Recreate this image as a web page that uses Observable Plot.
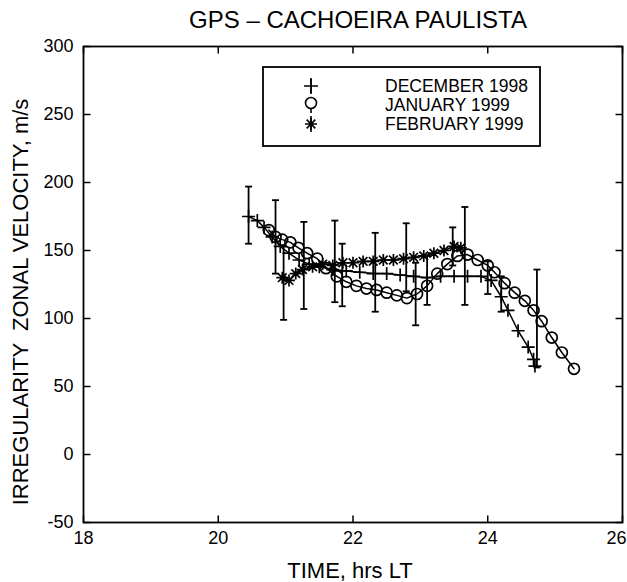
<!DOCTYPE html>
<html>
<head>
<meta charset="utf-8">
<script src="https://cdn.jsdelivr.net/npm/d3@7"></script>
<script src="https://cdn.jsdelivr.net/npm/@observablehq/plot@0.6"></script>
<style>
  html, body { margin: 0; padding: 0; background: white; }
  #chart { width: 627px; height: 582px; }
</style>
</head>
<body>
<div id="chart"></div>
<script>
// ---------- data (hours LT, m/s) ----------
const decX = [20.45, 20.58, 20.68, 20.8, 20.92, 21.05, 21.2, 21.35, 21.5, 21.7, 21.9, 22.1, 22.3, 22.5, 22.7, 22.9, 23.1, 23.3, 23.5, 23.7, 23.9, 24.05, 24.2, 24.3, 24.45, 24.6, 24.68, 24.7];
const decY = [175, 172, 167, 160, 153, 148, 143, 140, 138, 136, 135, 134, 133, 133, 132, 131, 130, 131, 131, 131, 131, 128, 116, 106, 91, 79, 70, 65];

const janX = [20.75, 20.85, 20.95, 21.07, 21.19, 21.32, 21.47, 21.6, 21.76, 21.9, 22.05, 22.2, 22.35, 22.5, 22.65, 22.8, 22.95, 23.1, 23.25, 23.4, 23.55, 23.7, 23.85, 24.0, 24.1, 24.25, 24.4, 24.55, 24.68, 24.8, 24.95, 25.1, 25.28];
const janY = [165, 160, 158, 156, 152, 148, 144, 137, 131, 127, 124, 122, 121, 119, 117, 115, 118, 124, 133, 140, 146, 147, 143, 139, 134, 126, 119, 113, 106, 98, 86, 75, 63];

const febX = [20.95, 21.05, 21.15, 21.25, 21.4, 21.55, 21.7, 21.85, 22.0, 22.15, 22.3, 22.45, 22.6, 22.75, 22.9, 23.05, 23.2, 23.35, 23.5, 23.6];
const febY = [130, 128, 133, 136, 138, 140, 139, 141, 141, 142, 142, 143, 143, 144, 145, 146, 148, 150, 153, 152];

// error bars: centre time, centre value, half-width
const errX = [20.45, 20.85, 20.97, 21.27, 21.73, 21.84, 22.33, 22.79, 22.93, 23.1, 23.48, 23.66, 24.0, 24.2, 24.73];
const errY = [176, 160, 126, 139, 142, 132, 134, 145, 118, 128, 153, 146, 130, 118, 100];
const errE = [21, 27, 27, 32, 30, 23, 29, 25, 23, 18, 14, 36, 12, 13, 36];

const xTicks = [18, 20, 22, 24, 26];
const yTicks = [-50, 0, 50, 100, 150, 200, 250, 300];

const seriesNames = ["DECEMBER 1998", "JANUARY 1999", "FEBRUARY 1999"];
const titleText = "GPS \u2013 CACHOEIRA PAULISTA";
const xLabel = "TIME, hrs LT";
const yLabel = "IRREGULARITY  ZONAL VELOCITY, m/s";

// ---------- tables ----------
const toRows = (xs, ys) => xs.map((x, i) => ({x, y: ys[i]}));
const dec = toRows(decX, decY);
const jan = toRows(janX, janY);
const feb = toRows(febX, febY);
const errs = errX.map((x, i) => ({x, lo: errY[i] - errE[i], hi: errY[i] + errE[i]}));
const caps = errs.flatMap(d => [{x: d.x, y: d.lo}, {x: d.x, y: d.hi}]);
const xTicksInner = xTicks.slice(0, -1);
const xTickLast = xTicks.slice(-1);

// ---------- symbols ----------
const rOf = size => Math.sqrt(size / Math.PI);
const plusSym = {draw(ctx, size) { const r = rOf(size); ctx.moveTo(-r, 0); ctx.lineTo(r, 0); ctx.moveTo(0, -r); ctx.lineTo(0, r); }};
const starSym = {draw(ctx, size) { const r = rOf(size); const s = r * 0.72;
  ctx.moveTo(-r, 0); ctx.lineTo(r, 0); ctx.moveTo(0, -r); ctx.lineTo(0, r);
  ctx.moveTo(-s, -s); ctx.lineTo(s, s); ctx.moveTo(-s, s); ctx.lineTo(s, -s); }};
const capSym = {draw(ctx, size) { const r = rOf(size); ctx.moveTo(-r, 0); ctx.lineTo(r, 0); }};
const TL = 7;
const tickRight = {draw(ctx) { ctx.moveTo(0, 0); ctx.lineTo(TL, 0); }};
const tickLeft = {draw(ctx) { ctx.moveTo(0, 0); ctx.lineTo(-TL, 0); }};
const tickUp = {draw(ctx) { ctx.moveTo(0, 0); ctx.lineTo(0, -TL); }};
const tickDown = {draw(ctx) { ctx.moveTo(0, 0); ctx.lineTo(0, TL); }};

const FONT = "'Liberation Sans', Arial, Helvetica, sans-serif";
const fmt = d => String(d);
const SW = 1.7;

const chart = Plot.plot({
  width: 627,
  height: 582,
  marginLeft: 83,
  marginRight: 5,
  marginTop: 46,
  marginBottom: 60,
  x: {domain: [18, 26]},
  y: {domain: [-50, 300]},
  style: {fontFamily: FONT, background: "white", color: "black", overflow: "visible"},
  marks: [
    Plot.axisX(xTicksInner, {tickSize: 0, tickPadding: 9, fontSize: 18, label: null, tickFormat: fmt}),
    Plot.axisX(xTickLast, {tickSize: 0, tickPadding: 9, fontSize: 18, label: null, tickFormat: fmt, textAnchor: "end", dx: 4}),
    Plot.axisY(yTicks, {tickSize: 0, tickPadding: 10, fontSize: 18, label: null, tickFormat: fmt}),
    // inward tick marks on all four sides
    Plot.dot(yTicks, {x: () => 18, y: d => d, symbol: tickRight, stroke: "black", fill: "none", strokeWidth: 1.5}),
    Plot.dot(yTicks, {x: () => 26, y: d => d, symbol: tickLeft, stroke: "black", fill: "none", strokeWidth: 1.5}),
    Plot.dot(xTicks, {x: d => d, y: () => -50, symbol: tickUp, stroke: "black", fill: "none", strokeWidth: 1.5}),
    Plot.dot(xTicks, {x: d => d, y: () => 300, symbol: tickDown, stroke: "black", fill: "none", strokeWidth: 1.5}),
    // error bars
    Plot.ruleX(errs, {x: "x", y1: "lo", y2: "hi", stroke: "black", strokeWidth: 1.8}),
    Plot.dot(caps, {x: "x", y: "y", symbol: capSym, r: 3.5, stroke: "black", fill: "none", strokeWidth: 1.8}),
    // series lines
    Plot.line(dec, {x: "x", y: "y", stroke: "black", strokeWidth: 1.5}),
    Plot.line(jan, {x: "x", y: "y", stroke: "black", strokeWidth: 1.5}),
    Plot.line(feb, {x: "x", y: "y", stroke: "black", strokeWidth: 1.5}),
    // markers
    Plot.dot(dec, {x: "x", y: "y", symbol: plusSym, r: 6.5, stroke: "black", fill: "none", strokeWidth: SW}),
    Plot.dot(jan, {x: "x", y: "y", symbol: "circle", r: 5.5, stroke: "black", fill: "none", strokeWidth: SW}),
    Plot.dot(feb, {x: "x", y: "y", symbol: starSym, r: 6, stroke: "black", fill: "none", strokeWidth: SW}),
    Plot.frame({stroke: "black", strokeWidth: 1.8})
  ]
});

document.getElementById("chart").appendChild(chart);

// ---------- title, axis labels, legend ----------
const svg = d3.select(chart);
svg.append("text")
  .attr("x", 358).attr("y", 19)
  .attr("text-anchor", "middle").attr("dominant-baseline", "central")
  .attr("font-family", FONT).attr("font-size", 24).attr("fill", "black")
  .text(titleText);
svg.append("text")
  .attr("x", 350).attr("y", 570)
  .attr("text-anchor", "middle").attr("dominant-baseline", "central")
  .attr("font-family", FONT).attr("font-size", 22).attr("fill", "black")
  .text(xLabel);
svg.append("text")
  .attr("transform", "translate(20,302) rotate(-90)")
  .attr("text-anchor", "middle").attr("dominant-baseline", "central")
  .attr("font-family", FONT).attr("font-size", 22).attr("fill", "black")
  .style("white-space", "pre")
  .text(yLabel);

const lg = svg.append("g");
lg.append("rect").attr("x", 263).attr("y", 67).attr("width", 277).attr("height", 79)
  .attr("fill", "white").attr("stroke", "black").attr("stroke-width", 1.8);
const rowsY = [86, 105, 124];
const symX = 311;
rowsY.forEach((yy, i) => {
  lg.append("line").attr("x1", symX).attr("x2", symX).attr("y1", yy - 8).attr("y2", yy + 8)
    .attr("stroke", "black").attr("stroke-width", 1.6);
  const s = [plusSym, d3.symbolCircle, starSym][i];
  const r = [7, 5.5, 6][i];
  lg.append("path").attr("transform", `translate(${symX},${i === 1 ? yy - 2 : yy})`)
    .attr("d", d3.symbol(s, Math.PI * r * r)())
    .attr("fill", i === 1 ? "white" : "none").attr("stroke", "black").attr("stroke-width", 1.6);
  lg.append("text").attr("x", 385).attr("y", yy)
    .attr("text-anchor", "start").attr("dominant-baseline", "central")
    .attr("font-family", FONT).attr("font-size", 17.5).attr("fill", "black")
    .text(seriesNames[i]);
});
</script>
</body>
</html>
